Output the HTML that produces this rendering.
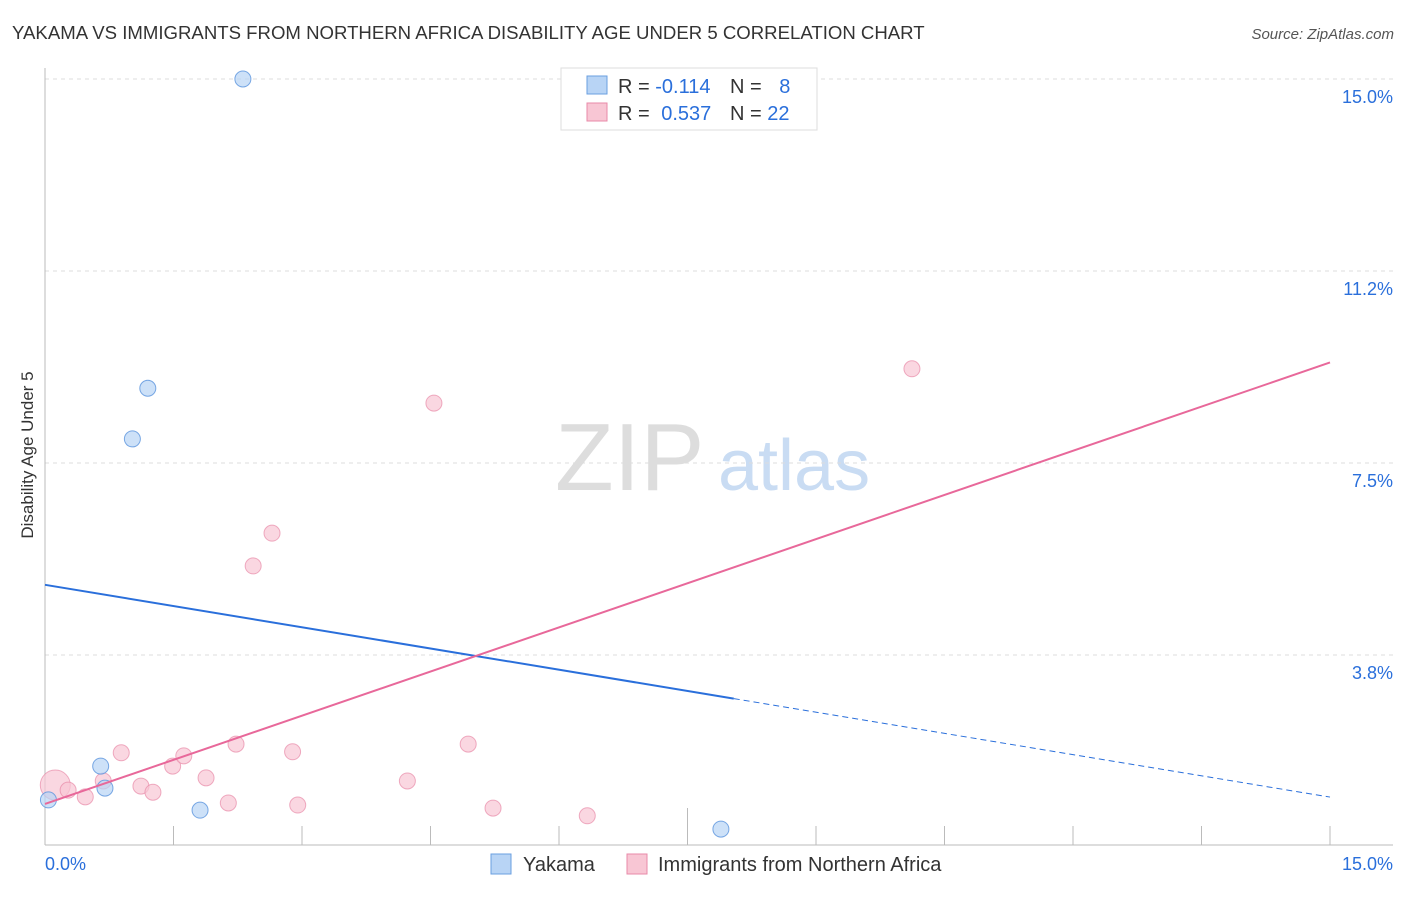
<!DOCTYPE html>
<html><head><meta charset="utf-8"><style>
body{margin:0;background:#fff;font-family:"Liberation Sans",sans-serif;}
svg text{font-family:"Liberation Sans",sans-serif;}
</style></head><body>
<svg id="c" width="1406" height="892">
<text x="12" y="39" font-size="18.6" fill="#333">YAKAMA VS IMMIGRANTS FROM NORTHERN AFRICA DISABILITY AGE UNDER 5 CORRELATION CHART</text>
<text x="1394" y="39" font-size="15" fill="#555" font-style="italic" text-anchor="end">Source: ZipAtlas.com</text>
<text x="33" y="455" font-size="17" fill="#333" text-anchor="middle" transform="rotate(-90 33 455)">Disability Age Under 5</text>
<text x="555" y="490" font-size="96" fill="#ddd" font-family="Liberation Serif">ZIP</text>
<text x="718" y="490" font-size="72" fill="#c9dcf3">atlas</text>
<g id="grid"></g><g id="pts"></g><g id="lines"></g>
<g>
<rect x="561" y="68" width="256" height="62" fill="#fff" stroke="#ddd"/>
<rect x="587" y="76" width="20" height="18" fill="#b8d4f5" stroke="#6a9fe0"/>
<text x="618" y="93" font-size="20" fill="#333">R = <tspan fill="#2a6fdb">-0.114</tspan></text>
<text x="730" y="93" font-size="20" fill="#333">N = <tspan fill="#2a6fdb" dx="12">8</tspan></text>
<rect x="587" y="103" width="20" height="18" fill="#f8c6d4" stroke="#e88aa8"/>
<text x="618" y="120" font-size="20" fill="#333">R = <tspan fill="#2a6fdb" dx="6">0.537</tspan></text>
<text x="730" y="120" font-size="20" fill="#333">N = <tspan fill="#2a6fdb">22</tspan></text>
</g>
<g>
<rect x="491" y="854" width="20" height="20" fill="#b8d4f5" stroke="#6a9fe0"/>
<text x="523" y="871" font-size="20" fill="#333">Yakama</text>
<rect x="627" y="854" width="20" height="20" fill="#f8c6d4" stroke="#e88aa8"/>
<text x="658" y="871" font-size="20" fill="#333">Immigrants from Northern Africa</text>
</g>
</svg>
<script>
const yTicks=[3.75,7.5,11.25,15.0];
const yTickLabels=["3.8%","7.5%","11.2%","15.0%"];
const xTicks=[0,1.5,3,4.5,6,7.5,9,10.5,12,13.5,15];
const yakX=[0.04,0.65,0.70,1.02,1.20,1.81,2.31,7.89];
const yakY=[0.92,1.58,1.15,7.97,8.96,0.72,15.0,0.35];
const imX=[0.12,0.27,0.47,0.68,0.89,1.12,1.26,1.49,1.62,1.88,2.14,2.23,2.43,2.65,2.89,2.95,4.23,4.54,4.94,5.23,6.33,10.12];
const imY=[1.21,1.11,0.98,1.29,1.84,1.19,1.07,1.58,1.78,1.35,0.86,2.01,5.49,6.13,1.86,0.82,1.29,8.67,2.01,0.76,0.61,9.34];
const NS="http://www.w3.org/2000/svg";
const X=v=>45+v/15*1285, Y=v=>847-v/15*768;
function mk(t,a,p){const e=document.createElementNS(NS,t);for(const k in a)e.setAttribute(k,a[k]);document.getElementById(p).appendChild(e);return e;}
yTicks.forEach((t,i)=>{
 const g=mk('line',{x1:45,x2:1393,y1:Y(t),y2:Y(t),stroke:'#ddd','stroke-dasharray':'4 4'},'grid');
 
 
 const l=mk('text',{x:1393,y:Y(t)+24,'font-size':18,fill:'#2a6fdb','text-anchor':'end'},'grid');
 l.textContent=yTickLabels[i];
 
 
});
const ax=mk('line',{x1:45,x2:1393,y1:845,y2:845,stroke:'#bbb'},'grid');


const ay=mk('line',{x1:45,x2:45,y1:68,y2:845,stroke:'#bbb'},'grid');


xTicks.forEach(t=>{const e=mk('line',{x1:X(t),x2:X(t),y1:t===7.5?808:826,y2:845,stroke:'#bbb'},'grid');
 
 });
[["0.0%",45,"start"],["15.0%",1393,"end"]].forEach(d=>{const e=mk('text',{x:d[1],y:870,'font-size':18,fill:'#2a6fdb','text-anchor':d[2]},'grid');e.textContent=d[0];
 
 });
function fit(xs,ys){const n=xs.length,mx=xs.reduce((a,b)=>a+b)/n,my=ys.reduce((a,b)=>a+b)/n;let sxy=0,sxx=0;xs.forEach((x,i)=>{sxy+=(x-mx)*(ys[i]-my);sxx+=(x-mx)**2});const s=sxy/sxx;return [my-s*mx,s];}
imX.forEach((x,i)=>{const c=mk('circle',{cx:X(x),cy:Y(imY[i]),r:i===0?15:8,fill:'#f8c6d4','fill-opacity':0.7,stroke:'#e88aa8','stroke-opacity':0.7},'pts');
 
 });
yakX.forEach((x,i)=>{const c=mk('circle',{cx:X(x),cy:Y(yakY[i]),r:8,fill:'#b8d4f5','fill-opacity':0.7,stroke:'#5a93dd','stroke-opacity':0.8},'pts');
 
 });
const [bi,bs]=fit(yakX,yakY), xm=Math.max(...yakX)+0.15;
const b1=mk('line',{x1:X(0),y1:Y(bi),x2:X(xm),y2:Y(bi+bs*xm),stroke:'#2a6fdb','stroke-width':2},'lines');


const b2=mk('line',{x1:X(xm),y1:Y(bi+bs*xm),x2:X(15),y2:Y(bi+bs*15),stroke:'#2a6fdb','stroke-width':1,'stroke-dasharray':'6 4'},'lines');


const [pi,ps]=fit(imX,imY);
const p1=mk('line',{x1:X(0),y1:Y(pi),x2:X(15),y2:Y(pi+ps*15),stroke:'#e8689a','stroke-width':2},'lines');


</script>
</body></html>
